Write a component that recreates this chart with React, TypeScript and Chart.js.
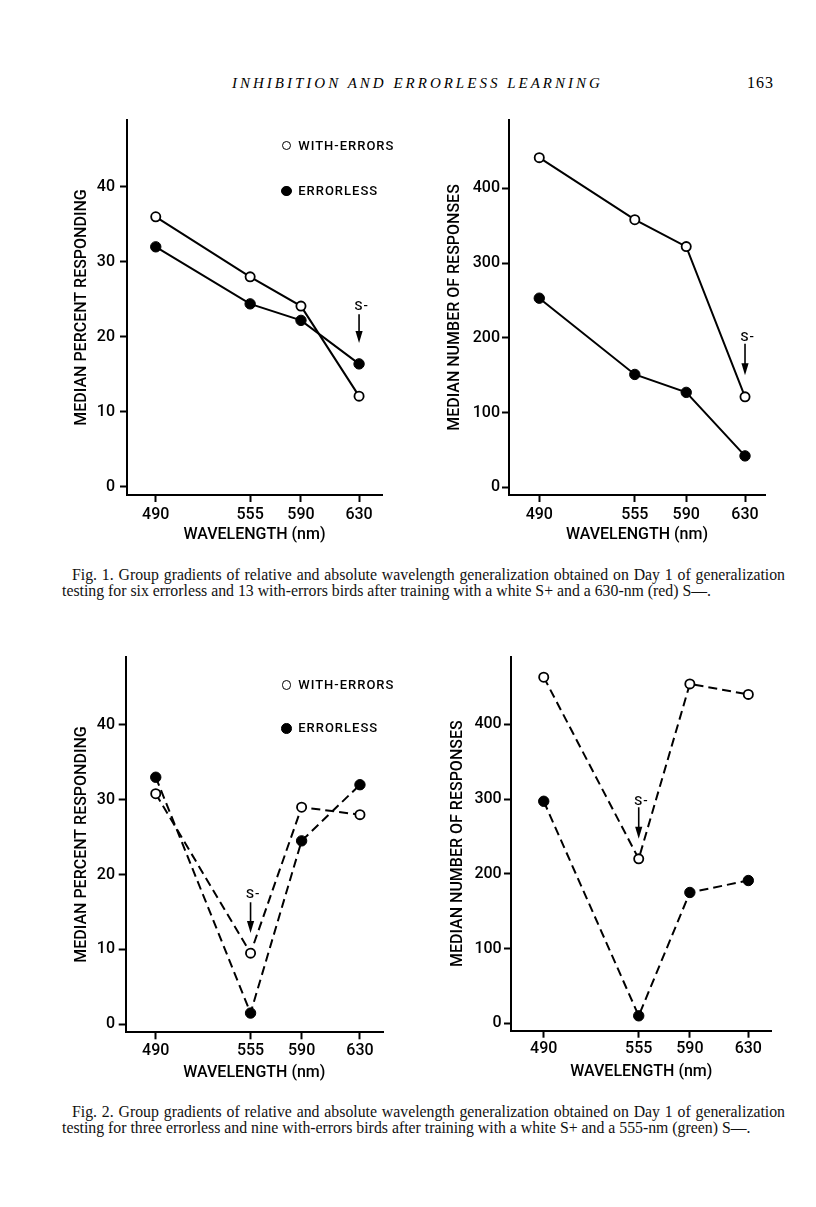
import React, { useEffect, useRef } from "react";
import { Chart, registerables } from "chart.js";

Chart.register(...registerables);

// ---------- data ----------
const wavelengths = [490, 555, 590, 630];
const xTickValues = [490, 555, 590, 630];
const percentTicks = [0, 10, 20, 30, 40];
const countTicks = [0, 100, 200, 300, 400];

const seriesWithErrors = "WITH-ERRORS";
const seriesErrorless = "ERRORLESS";

// Fig. 1 (S- = 630 nm)
const fig1PercentWithErrors = [36, 28, 24.1, 12.1];
const fig1PercentErrorless = [32, 24.4, 22.2, 16.4];
const fig1CountWithErrors = [441, 358, 322, 121];
const fig1CountErrorless = [253, 151, 127, 42];

// Fig. 2 (S- = 555 nm)
const fig2PercentWithErrors = [30.8, 9.5, 29, 28];
const fig2PercentErrorless = [33, 1.5, 24.5, 32];
const fig2CountWithErrors = [463, 220, 454, 440];
const fig2CountErrorless = [297, 10, 175, 191];

const xTitle = "WAVELENGTH (nm)";
const percentTitle = "MEDIAN PERCENT RESPONDING";
const countTitle = "MEDIAN NUMBER OF RESPONSES";

const headerText = "INHIBITION AND ERRORLESS LEARNING";
const pageNumber = "163";
const caption1Line1 =
  "Fig. 1. Group gradients of relative and absolute wavelength generalization obtained on Day 1 of generalization";
const caption1Line2 =
  "testing for six errorless and 13 with-errors birds after training with a white S+ and a 630-nm (red) S\u2014.";
const caption2Line1 =
  "Fig. 2. Group gradients of relative and absolute wavelength generalization obtained on Day 1 of generalization";
const caption2Line2 =
  "testing for three errorless and nine with-errors birds after training with a white S+ and a 555-nm (green) S\u2014.";

// ---------- styling ----------
const sans = "Roboto, 'Liberation Sans', sans-serif";
const serif = "'Liberation Serif', 'DejaVu Serif', serif";

type PanelCfg = {
  left: number; top: number; width: number; height: number;
  padTop: number; padRight: number; yWidth: number; xHeight: number;
  xMin: number; xMax: number; yMin: number; yMax: number;
  yTicks: number[]; yTitle: string; yTitlePad: number; yTickPad: number;
  xTitlePad: number; xTickPad: number;
  withErrors: number[]; errorless: number[]; dashed: boolean;
  sMinus: { x: number; labelY: number; arrowTop: number; arrowTip: number };
};

const panels: PanelCfg[] = [
  {
    left: 60, top: 110, width: 340, height: 450,
    padTop: 10, padRight: 18, yWidth: 67, xHeight: 65,
    xMin: 470.2, xMax: 645.8, yMin: -1.07, yMax: 48.9,
    yTicks: percentTicks, yTitle: percentTitle, yTitlePad: 12.1, yTickPad: 5,
    xTitlePad: 15.2, xTickPad: 3.2,
    withErrors: fig1PercentWithErrors, errorless: fig1PercentErrorless, dashed: false,
    sMinus: { x: 630, labelY: 24.0, arrowTop: 23.0, arrowTip: 19.2 },
  },
  {
    left: 430, top: 110, width: 360, height: 450,
    padTop: 10, padRight: 25, yWidth: 79, xHeight: 65,
    xMin: 469.4, xMax: 643.6, yMin: -10.3, yMax: 491.4,
    yTicks: countTicks, yTitle: countTitle, yTitlePad: 15.4, yTickPad: 2,
    xTitlePad: 15.2, xTickPad: 3.2,
    withErrors: fig1CountWithErrors, errorless: fig1CountErrorless, dashed: false,
    sMinus: { x: 630, labelY: 200, arrowTop: 192, arrowTip: 150 },
  },
  {
    left: 60, top: 640, width: 340, height: 450,
    padTop: 16.7, padRight: 17, yWidth: 65.7, xHeight: 57.7,
    xMin: 469.4, xMax: 645.8, yMin: -1.07, yMax: 49.1,
    yTicks: percentTicks, yTitle: percentTitle, yTitlePad: 12.1, yTickPad: 3.7,
    xTitlePad: 7.4, xTickPad: 1.7,
    withErrors: fig2PercentWithErrors, errorless: fig2PercentErrorless, dashed: true,
    sMinus: { x: 555, labelY: 17.3, arrowTop: 16.3, arrowTip: 12.2 },
  },
  {
    left: 430, top: 640, width: 360, height: 450,
    padTop: 16.7, padRight: 18.3, yWidth: 81, xHeight: 59.3,
    xMin: 467.6, xMax: 646.0, yMin: -9.9, yMax: 490.4,
    yTicks: countTicks, yTitle: countTitle, yTitlePad: 18.7, yTickPad: 2.3,
    xTitlePad: 8.7, xTickPad: 1.7,
    withErrors: fig2CountWithErrors, errorless: fig2CountErrorless, dashed: true,
    sMinus: { x: 555, labelY: 297, arrowTop: 289, arrowTip: 247 },
  },
];

// S- arrow annotation drawn through the chart's own scales
const sMinusPlugin = {
  id: "sMinus",
  afterDatasetsDraw(chart: any, _args: any, opts: any) {
    if (!opts || opts.x == null) return;
    const { ctx, scales } = chart;
    const px = scales.x.getPixelForValue(opts.x);
    const ly = scales.y.getPixelForValue(opts.labelY);
    const top = scales.y.getPixelForValue(opts.arrowTop);
    const tip = scales.y.getPixelForValue(opts.arrowTip);
    ctx.save();
    ctx.fillStyle = "#000";
    ctx.strokeStyle = "#000";
    ctx.font = `500 13px ${sans}`;
    (ctx as any).letterSpacing = "1px";
    ctx.textAlign = "left";
    ctx.textBaseline = "middle";
    const sw = ctx.measureText("S").width;
    ctx.fillText("S-", px - sw / 2, ly);
    ctx.lineWidth = 1.6;
    ctx.beginPath();
    ctx.moveTo(px, top);
    ctx.lineTo(px, tip - 8);
    ctx.stroke();
    ctx.beginPath();
    ctx.moveTo(px, tip);
    ctx.lineTo(px - 3.6, tip - 12);
    ctx.lineTo(px + 3.6, tip - 12);
    ctx.closePath();
    ctx.fill();
    ctx.restore();
  },
};

function Panel({ cfg }: { cfg: PanelCfg }) {
  const ref = useRef<HTMLCanvasElement | null>(null);
  useEffect(() => {
    if (!ref.current) return;
    const dash = cfg.dashed ? [9, 5] : [];
    const axisFont = { family: sans, size: 16, weight: 500 };
    const chart = new Chart(ref.current, {
      type: "line",
      data: {
        datasets: [
          {
            label: seriesWithErrors,
            data: wavelengths.map((x, i) => ({ x, y: cfg.withErrors[i] })),
            borderColor: "#000",
            borderWidth: 2,
            borderDash: dash,
            pointRadius: 4.6,
            pointBorderWidth: 1.8,
            pointBackgroundColor: "#fff",
            pointBorderColor: "#000",
            tension: 0,
            fill: false,
          },
          {
            label: seriesErrorless,
            data: wavelengths.map((x, i) => ({ x, y: cfg.errorless[i] })),
            borderColor: "#000",
            borderWidth: 2,
            borderDash: dash,
            pointRadius: 5.2,
            pointBorderWidth: 1,
            pointBackgroundColor: "#000",
            pointBorderColor: "#000",
            tension: 0,
            fill: false,
          },
        ],
      },
      options: {
        animation: false,
        responsive: false,
        events: [],
        layout: { padding: { top: cfg.padTop, right: cfg.padRight, left: 0, bottom: 0 } },
        plugins: {
          legend: { display: false },
          tooltip: { enabled: false },
          sMinus: cfg.sMinus,
        } as any,
        scales: {
          x: {
            type: "linear",
            min: cfg.xMin,
            max: cfg.xMax,
            afterBuildTicks: (s: any) => {
              s.ticks = xTickValues.map((v) => ({ value: v }));
            },
            afterFit: (s: any) => {
              s.height = cfg.xHeight;
              s.paddingLeft = 0;
              s.paddingRight = 0;
            },
            grid: {
              display: true,
              drawOnChartArea: false,
              drawTicks: true,
              tickLength: 7,
              tickWidth: 2,
              tickColor: "#000",
            },
            border: { display: true, color: "#000", width: 2 },
            ticks: {
              color: "#000",
              font: axisFont,
              padding: cfg.xTickPad,
              autoSkip: false,
              maxRotation: 0,
              callback: (v: any) => String(v),
            },
            title: {
              display: true,
              text: xTitle,
              color: "#000",
              font: axisFont,
              padding: { top: 0, bottom: cfg.xTitlePad },
            },
          },
          y: {
            type: "linear",
            min: cfg.yMin,
            max: cfg.yMax,
            afterBuildTicks: (s: any) => {
              s.ticks = cfg.yTicks.map((v) => ({ value: v }));
            },
            afterFit: (s: any) => {
              s.width = cfg.yWidth;
              s.paddingTop = 0;
              s.paddingBottom = 0;
            },
            grid: {
              display: true,
              drawOnChartArea: false,
              drawTicks: true,
              tickLength: 7,
              tickWidth: 2,
              tickColor: "#000",
            },
            border: { display: true, color: "#000", width: 2 },
            ticks: {
              color: "#000",
              font: axisFont,
              padding: cfg.yTickPad,
              autoSkip: false,
              callback: (v: any) => String(v),
            },
            title: {
              display: true,
              text: cfg.yTitle,
              color: "#000",
              font: axisFont,
              padding: { top: cfg.yTitlePad, bottom: 0 },
            },
          },
        },
      } as any,
      plugins: [sMinusPlugin],
    });
    return () => chart.destroy();
  }, [cfg]);
  return (
    <canvas
      ref={ref}
      width={cfg.width}
      height={cfg.height}
      style={{ position: "absolute", left: cfg.left, top: cfg.top, width: cfg.width, height: cfg.height }}
    />
  );
}

function LegendItem({ cx, cy, filled, text }: { cx: number; cy: number; filled: boolean; text: string }) {
  const d = filled ? 10.5 : 9.5;
  return (
    <>
      <div
        style={{
          position: "absolute",
          left: cx - d / 2,
          top: cy - d / 2,
          width: d,
          height: d,
          boxSizing: "border-box",
          borderRadius: "50%",
          border: `${filled ? 1 : 1.8}px solid #000`,
          background: filled ? "#000" : "#fff",
        }}
      />
      <div
        style={{
          position: "absolute",
          left: cx + 11.5,
          top: cy - 9,
          height: 18,
          lineHeight: "18px",
          fontFamily: sans,
          fontWeight: 500,
          fontSize: 13,
          letterSpacing: "1px",
          color: "#000",
          whiteSpace: "nowrap",
        }}
      >
        {text}
      </div>
    </>
  );
}

const captionStyle: React.CSSProperties = {
  position: "absolute",
  fontFamily: serif,
  fontSize: 15.8,
  lineHeight: "17px",
  color: "#111",
  whiteSpace: "nowrap",
};

export default function App() {
  return (
    <div style={{ position: "absolute", left: 0, top: 0, width: 816, height: 1207, background: "#fff" }}>
      <div
        style={{
          position: "absolute",
          left: 232,
          top: 74,
          fontFamily: serif,
          fontStyle: "italic",
          fontSize: 15,
          lineHeight: "18px",
          letterSpacing: "3px",
          whiteSpace: "nowrap",
          color: "#000",
        }}
      >
        {headerText}
      </div>
      <div
        style={{
          position: "absolute",
          left: 747,
          top: 74,
          fontFamily: serif,
          fontSize: 16,
          lineHeight: "18px",
          letterSpacing: "1px",
          color: "#000",
        }}
      >
        {pageNumber}
      </div>

      {panels.map((p, i) => (
        <Panel key={i} cfg={p} />
      ))}

      <LegendItem cx={286.7} cy={145.7} filled={false} text={seriesWithErrors} />
      <LegendItem cx={286.7} cy={191} filled={true} text={seriesErrorless} />
      <LegendItem cx={286.7} cy={685} filled={false} text={seriesWithErrors} />
      <LegendItem cx={286.7} cy={728.3} filled={true} text={seriesErrorless} />

      <div style={{ ...captionStyle, left: 72, top: 566, width: 713, textAlign: "justify", textAlignLast: "justify" }}>
        {caption1Line1}
      </div>
      <div style={{ ...captionStyle, left: 62, top: 582 }}>{caption1Line2}</div>

      <div style={{ ...captionStyle, left: 72, top: 1103, width: 713, textAlign: "justify", textAlignLast: "justify" }}>
        {caption2Line1}
      </div>
      <div style={{ ...captionStyle, left: 62, top: 1119 }}>{caption2Line2}</div>
    </div>
  );
}
